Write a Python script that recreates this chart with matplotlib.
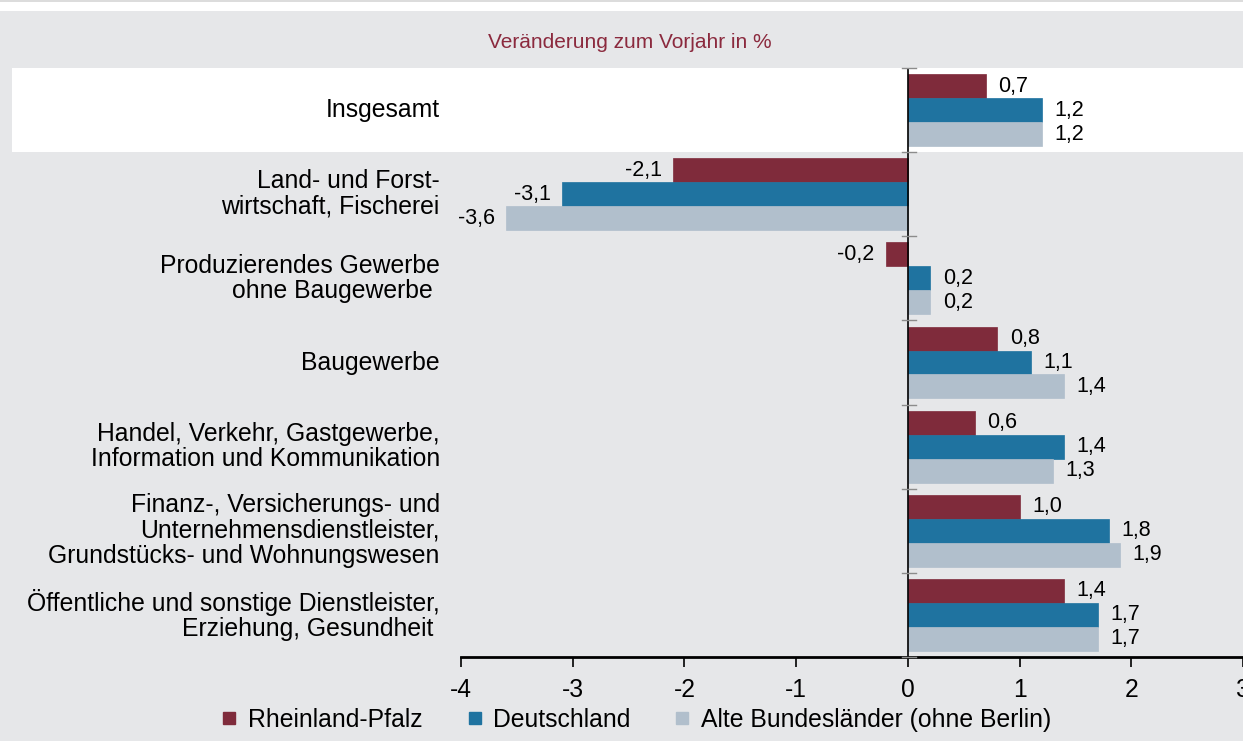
import matplotlib
matplotlib.use("Agg")
import matplotlib.pyplot as plt
import matplotlib.transforms as mtransforms
from matplotlib.patches import Rectangle
from matplotlib.lines import Line2D

plt.rcParams['font.family'] = ['Liberation Sans', 'DejaVu Sans']

# data
categories = [
    "Insgesamt",
    "Land- und Forst-\nwirtschaft, Fischerei",
    "Produzierendes Gewerbe\nohne Baugewerbe ",
    "Baugewerbe",
    "Handel, Verkehr, Gastgewerbe,\nInformation und Kommunikation",
    "Finanz-, Versicherungs- und\nUnternehmensdienstleister,\nGrundstücks- und Wohnungswesen",
    "Öffentliche und sonstige Dienstleister,\nErziehung, Gesundheit ",
]
series_names = ["Rheinland-Pfalz", "Deutschland", "Alte Bundesländer (ohne Berlin)"]
rlp = [0.7, -2.1, -0.2, 0.8, 0.6, 1.0, 1.4]
de = [1.2, -3.1, 0.2, 1.1, 1.4, 1.8, 1.7]
abl = [1.2, -3.6, 0.2, 1.4, 1.3, 1.9, 1.7]
xticks = [-4, -3, -2, -1, 0, 1, 2, 3]

colors = ["#7f2b3b", "#1f73a0", "#b1bfcc"]
bg = "#e6e7e9"

fig = plt.figure(figsize=(12.43, 7.41), dpi=100, facecolor=bg)
W, H = 1243, 741

# white strip at the top
fig.patches.append(Rectangle((0, 1 - 11 / H), 1, 11 / H, transform=fig.transFigure,
                             facecolor="white", edgecolor="none", zorder=0))
fig.patches.append(Rectangle((0, 1 - 2 / H), 1, 2 / H, transform=fig.transFigure,
                             facecolor="#dcdcdc", edgecolor="none", zorder=0))

ax = fig.add_axes([461 / W, 84 / H, 782 / W, 589 / H])
ax.set_facecolor("none")

n = len(categories)
ax.set_xlim(-4, 3)
ax.set_ylim(n - 0.5, -0.5)

# highlight row "Insgesamt"
trans = mtransforms.blended_transform_factory(fig.transFigure, ax.transData)
ax.add_patch(Rectangle((12 / W, -0.5), 1, 1.0, transform=trans, facecolor="white",
                       edgecolor="none", clip_on=False, zorder=0))

h = 0.285
for k, (vals, col) in enumerate(zip([rlp, de, abl], colors)):
    ys = [i + (k - 1) * h for i in range(n)]
    ax.barh(ys, vals, height=h, color=col, edgecolor=col, linewidth=0.5, zorder=2,
            label=series_names[k])
    for y, v in zip(ys, vals):
        lab = f"{v:.1f}".replace(".", ",")
        if v >= 0:
            ax.annotate(lab, (v, y), xytext=(9, 0), textcoords="offset points",
                        ha="left", va="center", fontsize=15.5, zorder=3)
        else:
            ax.annotate(lab, (v, y), xytext=(-8, 0), textcoords="offset points",
                        ha="right", va="center", fontsize=15.5, zorder=3)

# zero line and group separators
ax.axvline(0, color="black", lw=1.2, zorder=4)
for b in range(n + 1):
    ax.plot([-0.05, 0.07], [b - 0.5, b - 0.5], color="#8c8c8c", lw=1, zorder=4,
            clip_on=False)

# category labels
for i, c in enumerate(categories):
    ax.text(-4.19, i, c, ha="right", va="center", fontsize=17.8, linespacing=1.08,
            clip_on=False)

for s in ["top", "right", "left"]:
    ax.spines[s].set_visible(False)
ax.spines["bottom"].set_linewidth(2)
ax.set_yticks([])
ax.set_xticks(xticks)
ax.set_xticklabels([str(t) for t in xticks], fontsize=17.7)
ax.tick_params(axis="x", length=7, width=1.2, pad=8)

fig.text(630 / W, 1 - 43 / H, "Veränderung zum Vorjahr in %", color="#8b2a3e",
         fontsize=15, ha="center", va="center")

handles = [Line2D([], [], marker="s", ls="none", markersize=9, color=c) for c in colors]
fig.legend(handles, series_names, loc="center", bbox_to_anchor=(636 / W, 1 - 720 / H),
           ncol=3, frameon=False, fontsize=17.8, handlelength=0.7, handletextpad=0.4,
           columnspacing=1.75)

fig.savefig("out.png", dpi=100, facecolor=bg)
